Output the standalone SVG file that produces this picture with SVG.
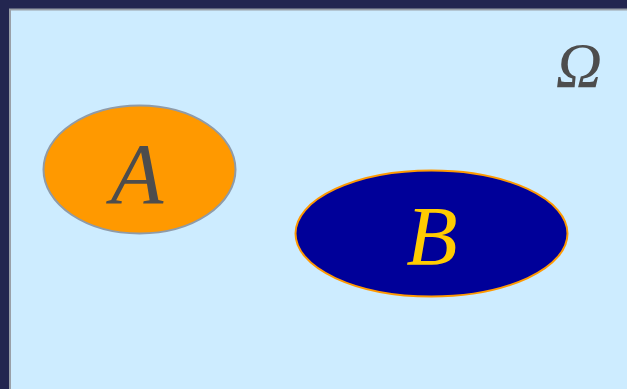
<svg xmlns="http://www.w3.org/2000/svg" width="627" height="389" viewBox="0 0 627 389">
<style>
.lbl{font-family:"Liberation Serif","DejaVu Serif",serif;font-style:italic;text-anchor:middle}
</style>
<rect x="0" y="0" width="627" height="389" fill="#232650"/>
<rect x="10" y="9.5" width="620" height="385" fill="#cdecff" stroke="#9aa0a8" stroke-width="2"/>
<g id="omega"><text class="lbl" x="579" y="87" font-size="64" fill="#4d4d4d">Ω</text></g>
<g id="A">
<ellipse cx="139.5" cy="169.5" rx="96" ry="64" fill="#ff9900" stroke="#8f9ba8" stroke-width="2"/>
<text class="lbl" x="137" y="203" font-size="86" fill="#4d4d4d">A</text>
</g>
<g id="B">
<ellipse cx="431.5" cy="233.5" rx="136" ry="63" fill="#000099" stroke="#ff9900" stroke-width="2"/>
<text class="lbl" x="432" y="265" font-size="84" fill="#ffcc00">B</text>
</g>
<g id="connectors"/>
</svg>
